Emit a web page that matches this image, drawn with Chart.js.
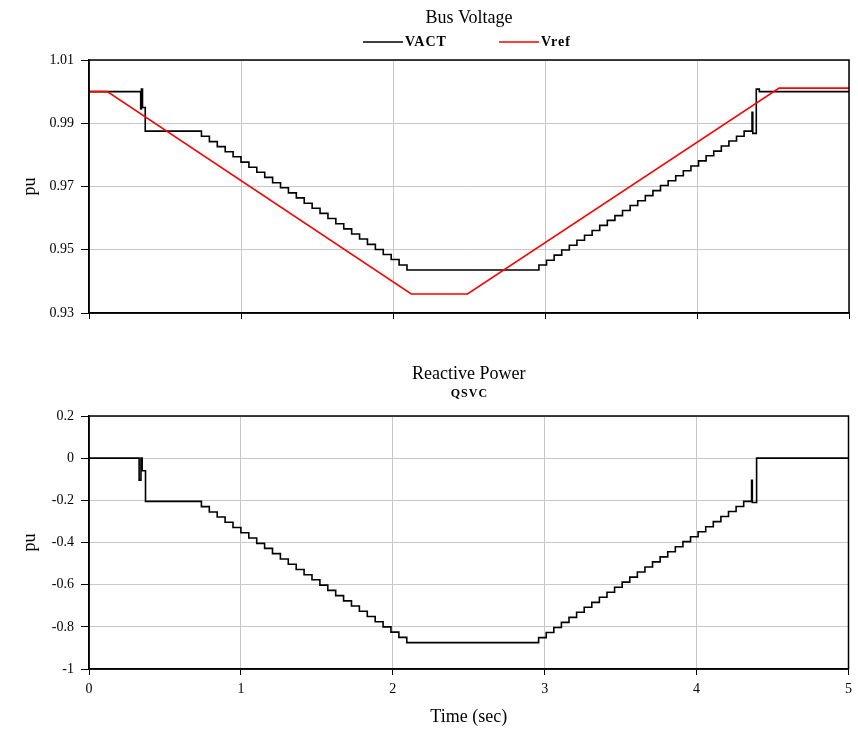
<!DOCTYPE html>
<html>
<head>
<meta charset="utf-8">
<script src="https://cdn.jsdelivr.net/npm/chart.js@4.4.1/dist/chart.umd.min.js"></script>
<style>
  body { margin: 0; background: #fff; }
  canvas { position: absolute; left: 0; }
</style>
</head>
<body>
<canvas id="voltChart" width="858" height="340" style="top:0px"></canvas>
<canvas id="powerChart" width="858" height="396" style="top:340px"></canvas>
<script>
// time stamps (sec) of the controller steps
const fallTimes = [0.740, 0.792, 0.844, 0.896, 0.948, 1.000, 1.052, 1.104, 1.156, 1.208, 1.260, 1.312, 1.364, 1.416,
                   1.468, 1.520, 1.572, 1.624, 1.676, 1.728, 1.780, 1.832, 1.884, 1.936, 1.988, 2.040, 2.092];
const riseTimes = [2.96, 3.01, 3.06, 3.11, 3.16, 3.21, 3.26, 3.31, 3.36, 3.41, 3.46, 3.51, 3.56, 3.61,
                   3.66, 3.71, 3.76, 3.81, 3.86, 3.91, 3.96, 4.01, 4.06, 4.11, 4.16, 4.21, 4.26, 4.31];

// Bus voltage, measured (VACT)
const vactStartT = [0, 0.340, 0.345, 0.352, 0.370];
const vactStartV = [1.0, 0.9945, 1.0008, 0.9950, 0.9875];
const vactFall = [0.9859, 0.9842, 0.9826, 0.9810, 0.9794, 0.9777, 0.9761, 0.9745, 0.9729, 0.9712, 0.9696, 0.9680, 0.9664, 0.9647,
                  0.9631, 0.9615, 0.9599, 0.9582, 0.9566, 0.9550, 0.9534, 0.9517, 0.9501, 0.9485, 0.9469, 0.9452, 0.9436];
const vactRise = [0.9452, 0.9467, 0.9483, 0.9499, 0.9514, 0.9530, 0.9546, 0.9561, 0.9577, 0.9593, 0.9608, 0.9624, 0.9640, 0.9655,
                  0.9671, 0.9687, 0.9703, 0.9718, 0.9734, 0.9750, 0.9765, 0.9781, 0.9797, 0.9812, 0.9828, 0.9844, 0.9859, 0.9875];
const vactEndT = [4.362, 4.367, 4.390, 4.410, 5.0];
const vactEndV = [0.9935, 0.9868, 1.0008, 1.0, 1.0];

// Bus voltage, reference (Vref)
const vrefT = [0, 0.12, 2.12, 2.49, 4.54, 5.0];
const vrefV = [1.0, 1.0, 0.936, 0.936, 1.0011, 1.0011];

// Reactive power (QSVC)
const qsvcStartT = [0, 0.330, 0.342, 0.350, 0.372];
const qsvcStartV = [0, -0.105, 0, -0.06, -0.205];
const qsvcFall = [-0.230, -0.255, -0.279, -0.304, -0.329, -0.354, -0.379, -0.404, -0.428, -0.453, -0.478, -0.503, -0.528, -0.553,
                  -0.577, -0.602, -0.627, -0.652, -0.677, -0.701, -0.726, -0.751, -0.776, -0.800, -0.825, -0.850, -0.875];
const qsvcRise = [-0.851, -0.827, -0.803, -0.779, -0.755, -0.731, -0.707, -0.684, -0.660, -0.636, -0.612, -0.588, -0.564, -0.540,
                  -0.516, -0.492, -0.468, -0.444, -0.420, -0.396, -0.373, -0.349, -0.325, -0.301, -0.277, -0.253, -0.229, -0.205];
const qsvcEndT = [4.362, 4.367, 4.395, 5.0];
const qsvcEndV = [-0.105, -0.21, 0, 0];

const xTicks = [0, 1, 2, 3, 4, 5];
const voltTicks = [0.93, 0.95, 0.97, 0.99, 1.01];
const powerTicks = [-1, -0.8, -0.6, -0.4, -0.2, 0, 0.2];

function toPoints(times, values) {
    return times.map((t, i) => ({ x: t, y: values[i] }));
}

const vactPoints = [].concat(
    toPoints(vactStartT, vactStartV),
    toPoints(fallTimes, vactFall),
    toPoints(riseTimes, vactRise),
    toPoints(vactEndT, vactEndV)
);
const vrefPoints = toPoints(vrefT, vrefV);
const qsvcPoints = [].concat(
    toPoints(qsvcStartT, qsvcStartV),
    toPoints(fallTimes, qsvcFall),
    toPoints(riseTimes, qsvcRise),
    toPoints(qsvcEndT, qsvcEndV)
);

const SERIF = "'Liberation Serif', 'Times New Roman', serif";
Chart.defaults.font.family = SERIF;
Chart.defaults.color = '#000';

// box round the plot, panel title and the little legend above it
const panelDecor = {
    id: 'panelDecor',
    afterDraw(chart, args, opts) {
        const c = chart.ctx;
        const area = chart.chartArea;
        const cx = (area.left + area.right) / 2;
        c.save();
        c.strokeStyle = '#000';
        c.lineWidth = 1.5;
        c.strokeRect(area.left, area.top, area.right - area.left, area.bottom - area.top);

        c.fillStyle = '#000';
        c.textAlign = 'center';
        c.textBaseline = 'middle';
        c.font = '18px ' + SERIF;
        c.fillText(opts.title, cx, opts.titleY);

        c.font = opts.legendFont;
        c.letterSpacing = '1px';
        opts.legend.forEach(it => {
            let x = cx + it.dx;
            if (it.color) {
                c.strokeStyle = it.color;
                c.lineWidth = 1.6;
                c.beginPath();
                c.moveTo(x, opts.legendY);
                c.lineTo(x + 40, opts.legendY);
                c.stroke();
                x += 42;
            }
            c.textAlign = 'left';
            c.fillText(it.label, x, opts.legendY);
        });
        c.restore();
    }
};

function xScale(showLabels, axisHeight) {
    return {
        type: 'linear',
        min: 0,
        max: 5,
        afterBuildTicks: scale => { scale.ticks = xTicks.map(v => ({ value: v })); },
        afterFit: scale => { scale.height = axisHeight; },
        grid: { color: '#c8c8c8', tickColor: '#000', tickLength: 6, lineWidth: 1 },
        border: { color: '#000', width: 1.5 },
        ticks: { display: showLabels, padding: 6, font: { size: 14 }, maxRotation: 0 },
        title: {
            display: showLabels,
            text: 'Time (sec)',
            font: { size: 18 },
            padding: { top: 0, bottom: 8 }
        }
    };
}

function yScale(min, max, tickList) {
    return {
        type: 'linear',
        min: min,
        max: max,
        afterBuildTicks: scale => { scale.ticks = tickList.map(v => ({ value: v })); },
        afterFit: scale => { scale.width = 89; },
        grid: { color: '#c8c8c8', tickColor: '#000', tickLength: 8, lineWidth: 1 },
        border: { color: '#000', width: 1.5 },
        ticks: {
            padding: 7,
            font: { size: 14 },
            callback: v => String(Number(v.toFixed(2)))
        },
        title: {
            display: true,
            text: 'pu',
            font: { size: 18 },
            padding: { top: 19, bottom: 0 }
        }
    };
}

const baseOptions = {
    responsive: false,
    animation: false,
    devicePixelRatio: 1,
    plugins: { legend: { display: false }, title: { display: false }, tooltip: { enabled: false } }
};

new Chart(document.getElementById('voltChart').getContext('2d'), {
    type: 'line',
    data: {
        datasets: [{
            label: 'Vref',
            data: vrefPoints,
            borderColor: '#ff0000',
            backgroundColor: '#ff0000',
            borderWidth: 1.6,
            pointRadius: 0,
            order: 0
        }, {
            label: 'VACT',
            data: vactPoints,
            borderColor: '#000',
            backgroundColor: '#000',
            borderWidth: 1.6,
            pointRadius: 0,
            stepped: true,
            order: 1
        }]
    },
    options: Object.assign({}, baseOptions, {
        layout: { padding: { left: 0, right: 9, top: 60, bottom: 0 } },
        scales: {
            x: xScale(false, 27),
            y: yScale(0.93, 1.01, voltTicks)
        },
        plugins: Object.assign({}, baseOptions.plugins, {
            panelDecor: {
                title: 'Bus Voltage',
                titleY: 18,
                legendY: 42,
                legendFont: 'bold 14px ' + SERIF,
                legend: [{ label: 'VACT', color: '#000', dx: -106 }, { label: 'Vref', color: '#ff0000', dx: 30 }]
            }
        })
    }),
    plugins: [panelDecor]
});

new Chart(document.getElementById('powerChart').getContext('2d'), {
    type: 'line',
    data: {
        datasets: [{
            label: 'QSVC',
            data: qsvcPoints,
            borderColor: '#000',
            backgroundColor: '#000',
            borderWidth: 1.6,
            pointRadius: 0,
            stepped: true
        }]
    },
    options: Object.assign({}, baseOptions, {
        layout: { padding: { left: 0, right: 9, top: 76, bottom: 0 } },
        scales: {
            x: xScale(true, 67),
            y: yScale(-1, 0.2, powerTicks)
        },
        plugins: Object.assign({}, baseOptions.plugins, {
            panelDecor: {
                title: 'Reactive Power',
                titleY: 34,
                legendY: 54,
                legendFont: 'bold 12px ' + SERIF,
                legend: [{ label: 'QSVC', color: null, dx: -18 }]
            }
        })
    }),
    plugins: [panelDecor]
});
</script>
</body>
</html>
